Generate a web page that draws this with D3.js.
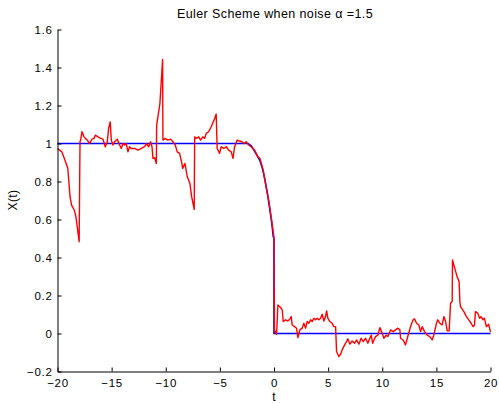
<!DOCTYPE html>
<html>
<head>
<meta charset="utf-8">
<script src="https://cdn.jsdelivr.net/npm/d3@7"></script>
<style>
  html, body { margin: 0; padding: 0; background: #fff; }
  svg { display: block; }
  text { font-family: "Liberation Sans", Arial, Helvetica, sans-serif; fill: #000; }
</style>
</head>
<body>
<svg id="chart" width="499" height="403"></svg>
<script>
// Deterministic solution (blue)
const detT = [-20, -2.4, -2.1, -1.85, -1.6, -1.3, -1.05, -0.84, -0.6, -0.38, -0.2, -0.07, 0, 0, 20];
const detX = [1, 1, 0.988, 0.965, 0.94, 0.91, 0.865, 0.81, 0.735, 0.65, 0.58, 0.51, 0.5, 0, 0];

// Euler scheme path with alpha-stable noise (red)
const eulerT = [
  -20, -19.6, -19.3, -19.05, -18.84, -18.7, -18.45, -18.3, -18.0, -17.92,
  -17.86, -17.74, -17.55, -17.43, -17.25, -17.03, -16.81, -16.63, -16.5, -16.26,
  -16.01, -15.8, -15.59, -15.4, -15.28, -15.13, -15.03, -14.88, -14.72, -14.48,
  -14.26, -14.11, -13.95, -13.8, -13.65, -13.49, -13.34, -13.19, -12.87, -12.57,
  -12.26, -11.95, -11.8, -11.58, -11.4, -11.27, -11.18, -11.02, -10.87, -10.84,
  -10.54, -10.29, -10.26, -10.05, -9.8, -9.55, -9.34, -9.12, -8.94, -8.72,
  -8.51, -8.44, -8.23, -8.01, -7.77, -7.61, -7.37, -7.33, -7.18, -6.96,
  -6.78, -6.57, -6.41, -6.26, -6.04, -5.8, -5.48, -5.34, -5.25, -5.03,
  -4.88, -4.63, -4.41, -4.19, -3.95, -3.79, -3.64, -3.4, -3.18, -2.96,
  -2.78, -2.57, -2.35, -2.11, -1.79, -1.49, -1.3, -1.0, -0.68, -0.44,
  -0.22, -0.01, 0.05, 0.24, 0.36, 0.54, 0.76, 0.85, 1.07, 1.28,
  1.47, 1.59, 1.68, 1.9, 2.08, 2.21, 2.39, 2.6, 2.76, 2.92,
  3.07, 3.22, 3.38, 3.53, 3.68, 3.84, 3.99, 4.15, 4.3, 4.45,
  4.61, 4.76, 4.86, 4.98, 5.16, 5.37, 5.53, 5.69, 5.78, 5.99,
  6.15, 6.3, 6.52, 6.7, 6.82, 7.01, 7.22, 7.44, 7.63, 7.84,
  8.05, 8.24, 8.46, 8.67, 8.85, 8.98, 9.11, 9.38, 9.59, 9.78,
  9.99, 10.15, 10.36, 10.52, 10.77, 11.01, 11.23, 11.44, 11.63, 11.69,
  11.93, 12.15, 12.36, 12.61, 12.85, 12.98, 13.17, 13.38, 13.54, 13.69,
  13.91, 14.15, 14.4, 14.61, 14.76, 15.01, 15.13, 15.32, 15.53, 15.69,
  15.85, 16.0, 16.18, 16.31, 16.46, 16.49, 16.7, 16.92, 17.1, 17.17,
  17.23, 17.54, 17.78, 17.99, 18.21, 18.39, 18.52, 18.61, 18.82, 19.0,
  19.12, 19.31, 19.44, 19.62, 19.83, 20.0
];
const eulerX = [
  0.974, 0.956, 0.91, 0.87, 0.72, 0.676, 0.65, 0.615, 0.483, 1.01,
  1.018, 1.062, 1.035, 1.027, 1.018, 1.0, 1.023, 1.027, 1.044, 1.035,
  1.027, 1.023, 0.983, 1.009, 1.079, 1.114, 1.018, 0.992, 1.009, 1.023,
  0.992, 0.974, 1.0, 0.992, 1.0, 0.956, 0.983, 0.974, 0.974, 0.965,
  0.974, 0.983, 1.0, 0.983, 1.009, 0.983, 0.922, 0.925, 0.895, 1.097,
  1.21, 1.442, 1.018, 1.027, 1.018, 1.023, 1.009, 0.992, 0.956, 0.948,
  0.895, 0.869, 0.895, 0.825, 0.79, 0.72, 0.653, 1.035, 1.027, 1.035,
  1.018, 1.035, 1.027, 1.053, 1.062, 1.088, 1.132, 1.155, 0.974, 0.948,
  0.983, 0.974, 0.983, 0.965, 0.956, 0.922, 0.983, 1.018, 1.013, 1.009,
  1.0, 1.009, 0.992, 0.983, 0.965, 0.93, 0.922, 0.86, 0.755, 0.685,
  0.597, 0.51, 0.019, -0.005, 0.15, 0.141, 0.124, 0.063, 0.072, 0.066,
  0.077, 0.089, 0.045, 0.036, 0.028, -0.022, 0.019, 0.028, 0.054, 0.028,
  0.063, 0.054, 0.072, 0.063, 0.08, 0.072, 0.08, 0.072, 0.08, 0.101,
  0.066, 0.089, 0.119, 0.08, 0.063, 0.054, 0.036, 0.036, -0.095, -0.121,
  -0.109, -0.086, -0.06, -0.043, -0.028, -0.056, -0.039, -0.051, -0.034, -0.056,
  -0.025, -0.043, -0.025, -0.051, -0.025, -0.009, -0.051, -0.016, -0.009, 0.031,
  0.002, -0.025, -0.009, -0.016, 0.019, 0.01, 0.019, 0.028, 0.019, -0.025,
  -0.034, -0.06, -0.016, 0.036, 0.072, 0.077, 0.054, 0.045, 0.01, 0.036,
  0.01, -0.009, -0.016, -0.034, -0.009, 0.054, 0.072, 0.054, 0.045, 0.089,
  0.063, 0.014, 0.014, 0.159, 0.168, 0.387, 0.343, 0.299, 0.273, 0.168,
  0.141, 0.115, 0.089, 0.072, 0.054, 0.036, 0.045, 0.115, 0.107, 0.08,
  0.089, 0.072, 0.08, 0.036, 0.049, 0.007
];

const xTicks = [-20, -15, -10, -5, 0, 5, 10, 15, 20];
const yTicks = [-0.2, 0, 0.2, 0.4, 0.6, 0.8, 1, 1.2, 1.4, 1.6];
const titleText = "Euler Scheme when noise \u03B1 =1.5";
const xLabel = "t";
const yLabel = "X(t)";

const svg = d3.select("#chart");
const plotLeft = 57.5, plotRight = 490.5, plotTop = 29.5, plotBottom = 371.5;

const x = d3.scaleLinear().domain([-20, 20]).range([plotLeft, plotRight]);
const y = d3.scaleLinear().domain([-0.2, 1.6]).range([plotBottom, plotTop]);
const fmt = d3.format("~g");

const line = d3.line().x(d => x(d[0])).y(d => y(d[1]));

svg.append("path")
  .datum(detT.map((t, i) => [t, detX[i]]))
  .attr("d", line)
  .attr("fill", "none")
  .attr("stroke", "#0000ff")
  .attr("stroke-width", 1.6);

svg.append("path")
  .datum(eulerT.map((t, i) => [t, eulerX[i]]))
  .attr("d", line)
  .attr("fill", "none")
  .attr("stroke", "#ff0000")
  .attr("stroke-width", 1.4)
  .attr("stroke-linejoin", "round");

// Axes: ticks point inward, no box
const xAxis = svg.append("g")
  .attr("transform", `translate(0,${plotBottom})`)
  .call(d3.axisBottom(x).tickValues(xTicks).tickFormat(fmt).tickSizeInner(-4).tickSizeOuter(0).tickPadding(7));
const yAxis = svg.append("g")
  .attr("transform", `translate(${plotLeft},0)`)
  .call(d3.axisLeft(y).tickValues(yTicks).tickFormat(fmt).tickSizeInner(-4).tickSizeOuter(0).tickPadding(5));

[xAxis, yAxis].forEach(g => {
  g.select(".domain").attr("stroke", "#000");
  g.selectAll(".tick line").attr("stroke", "#000");
  g.selectAll(".tick text")
    .attr("fill", "#000")
    .style("font-family", "'Liberation Sans', Arial, sans-serif")
    .style("font-size", "11.5px")
    .style("letter-spacing", "0.7px");
});

svg.append("text")
  .attr("x", 275).attr("y", 18)
  .attr("text-anchor", "middle")
  .style("font-size", "12.5px")
  .style("letter-spacing", "0.4px")
  .text(titleText);

svg.append("text")
  .attr("x", 274).attr("y", 401)
  .attr("text-anchor", "middle")
  .style("font-size", "12px")
  .text(xLabel);

svg.append("text")
  .attr("transform", `translate(17,200) rotate(-90)`)
  .attr("text-anchor", "middle")
  .style("font-size", "12px")
  .style("letter-spacing", "0.4px")
  .text(yLabel);
</script>
</body>
</html>
